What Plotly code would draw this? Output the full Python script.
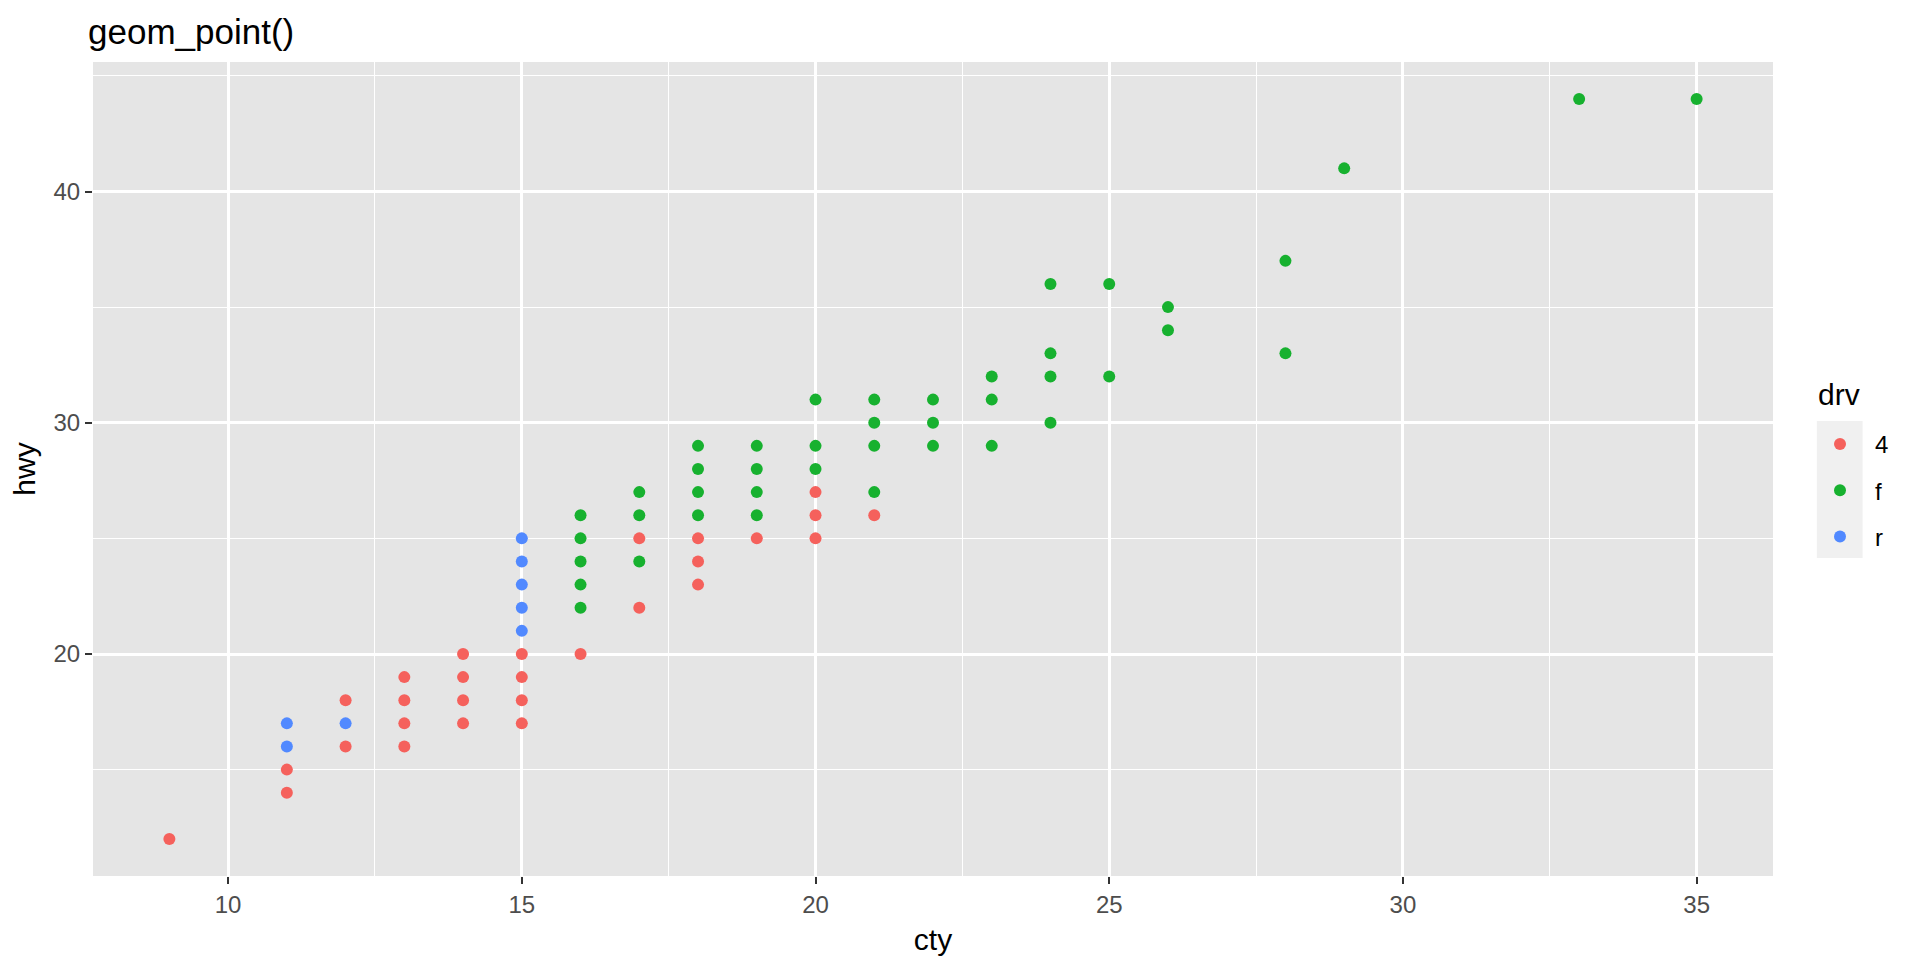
import plotly.graph_objects as go

# mpg: cty vs hwy, coloured by drv (visible points only)
drv_levels = ["4", "f", "r"]
drv_colors = ["#F5615C", "#17B12F", "#5189FF"]

cty_4 = [9, 11, 11, 12, 12, 13, 13, 13, 13, 14, 14, 14, 14, 15, 15, 15, 15,
         16, 17, 17, 18, 18, 18, 19, 20, 20, 20, 21]
hwy_4 = [12, 14, 15, 16, 18, 16, 17, 18, 19, 17, 18, 19, 20, 17, 18, 19, 20,
         20, 22, 25, 23, 24, 25, 25, 25, 26, 27, 26]

cty_f = [16, 16, 16, 16, 16, 17, 17, 17, 18, 18, 18, 18, 19, 19, 19, 19,
         20, 20, 20, 21, 21, 21, 21, 22, 22, 22, 23, 23, 23, 24, 24, 24, 24,
         25, 25, 26, 26, 28, 28, 29, 33, 35]
hwy_f = [22, 23, 24, 25, 26, 24, 26, 27, 26, 27, 28, 29, 26, 27, 28, 29,
         28, 29, 31, 27, 29, 30, 31, 29, 30, 31, 29, 31, 32, 30, 32, 33, 36,
         32, 36, 34, 35, 33, 37, 41, 44, 44]

cty_r = [11, 11, 12, 15, 15, 15, 15, 15]
hwy_r = [16, 17, 17, 21, 22, 23, 24, 25]

x_ticks = [10, 15, 20, 25, 30, 35]
y_ticks = [20, 30, 40]

series = [(cty_4, hwy_4), (cty_f, hwy_f), (cty_r, hwy_r)]

FONT = "Liberation Sans, Arial, Helvetica, sans-serif"
W, H = 1920, 960
OFF = 8  # page body margin
L, T, R, B = 86 - OFF, 62 - OFF, 147 + OFF, 84 + OFF
PW, PH = W - L - R, H - T - B


def px_x(x):
    # figure pixel -> paper x
    return (x - OFF - L) / PW


def px_y(y):
    return (H - B - (y - OFF)) / PH


fig = go.Figure()

for i, (xs, ys) in enumerate(series):
    fig.add_trace(go.Scatter(
        x=xs,
        y=ys,
        mode="markers",
        name=drv_levels[i],
        legendgroup=drv_levels[i],
        marker=dict(color=drv_colors[i], size=12, line=dict(width=0)),
    ))

# legend key background (grey key box)
fig.add_shape(type="rect", xref="paper", yref="paper",
              x0=px_x(1817), x1=px_x(1863), y0=px_y(558), y1=px_y(421),
              fillcolor="#F0F0F0", line=dict(width=0), layer="below")

# legend title
fig.add_annotation(text="drv", xref="paper", yref="paper",
                   x=px_x(1816), y=px_y(394), xanchor="left", yanchor="middle",
                   showarrow=False, font=dict(size=30, color="black"))

fig.update_layout(
    width=W,
    height=H,
    paper_bgcolor="white",
    plot_bgcolor="#E5E5E5",
    font=dict(family=FONT, color="black"),
    margin=dict(l=L, r=R, t=T, b=B),
    title=dict(text="geom_point()", x=(88 - OFF) / W, xanchor="left", xref="container",
               y=1 - 24 / H, yanchor="middle", yref="container",
               font=dict(size=35, color="black")),
    xaxis=dict(
        range=[7.7, 36.3],
        tickvals=x_ticks,
        ticks="outside", ticklen=7, tickwidth=2.2, tickcolor="#333333",
        tickfont=dict(size=24, color="#4D4D4D"),
        showgrid=True, gridcolor="white", gridwidth=2.6,
        minor=dict(dtick=2.5, tick0=7.5, showgrid=True, gridcolor="white", gridwidth=1.3),
        zeroline=False, showline=False,
        title=dict(text="cty", font=dict(size=30, color="black"), standoff=12),
    ),
    yaxis=dict(
        range=[10.4, 45.6],
        tickvals=y_ticks,
        ticks="outside", ticklen=7, tickwidth=2.2, tickcolor="#333333",
        tickfont=dict(size=24, color="#4D4D4D"),
        showgrid=True, gridcolor="white", gridwidth=2.6,
        minor=dict(dtick=5, tick0=15, showgrid=True, gridcolor="white", gridwidth=1.3),
        zeroline=False, showline=False,
        title=dict(text="hwy", font=dict(size=30, color="black"), standoff=12),
    ),
    legend=dict(
        font=dict(size=24, color="black"),
        xref="container", yref="container",
        x=(1805 - OFF) / W, xanchor="left",
        y=1 - (422 - OFF) / H, yanchor="top",
        bgcolor="rgba(0,0,0,0)",
        traceorder="grouped",
        tracegroupgap=12,
        itemsizing="constant",
        itemwidth=60,
    ),
)

fig.write_html("out.html")
